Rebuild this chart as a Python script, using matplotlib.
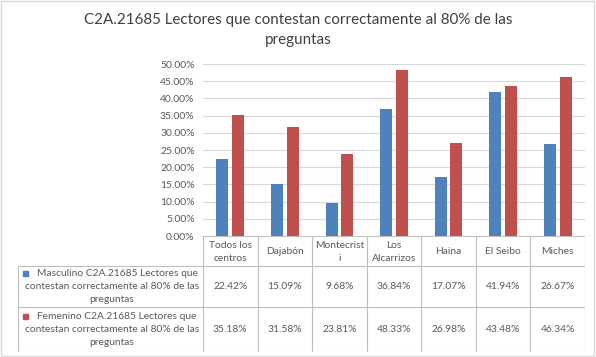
import matplotlib
matplotlib.use("Agg")
import matplotlib.pyplot as plt
from matplotlib.patches import Rectangle

categories = ["Todos los\ncentros", "Dajabón", "Montecrist\ni", "Los\nAlcarrizos", "Haina", "El Seibo", "Miches"]
masculino = [22.42, 15.09, 9.68, 36.84, 17.07, 41.94, 26.67]
femenino = [35.18, 31.58, 23.81, 48.33, 26.98, 43.48, 46.34]
series_labels = [["Masculino C2A.21685 Lectores que", "contestan correctamente al 80% de las", "preguntas"],
                 ["Femenino C2A.21685 Lectores que", "contestan correctamente al 80% de las", "preguntas"]]
title = "C2A.21685 Lectores que contestan correctamente al 80% de las\npreguntas"
yticks = [0, 5, 10, 15, 20, 25, 30, 35, 40, 45, 50]

BLUE = "#4F81BD"
RED = "#C0504D"
GRID = "#D9D9D9"
TXT = "#595959"
FONT = "Lato"

W, H = 596, 357
fig = plt.figure(figsize=(W / 100, H / 100), dpi=100)
plt.rcParams['font.family'] = [FONT, 'DejaVu Sans']

def fx(px):
    return px / W

def fy(py):
    return 1 - py / H

# outer border
fig.patches.append(Rectangle((0.002, 0.003), 0.995, 0.994, transform=fig.transFigure,
                             fill=False, edgecolor="#D9D9D9", linewidth=1.0))

fig.text(0.5, fy(30), title, ha="center", va="center", fontsize=10.9, color="#404040",
         linespacing=1.55)

left, right, top, bottom = 203, 585, 64, 236
ax = fig.add_axes([fx(left), fy(bottom), fx(right) - fx(left), fy(top) - fy(bottom)])
n = len(masculino)
x = list(range(n))
bw = 0.22
ax.bar([i - 0.145 for i in x], masculino, width=bw, color=BLUE, zorder=3)
ax.bar([i + 0.145 for i in x], femenino, width=bw, color=RED, zorder=3)
ax.set_xlim(-0.5, n - 0.5)
ax.set_ylim(0, 50)
ax.set_yticks(yticks)
ax.set_yticklabels([f"{v:.2f}%" for v in yticks], fontsize=7.5, color=TXT)
ax.yaxis.grid(True, color=GRID, linewidth=0.8, zorder=0)
ax.set_xticks([])
for s in ax.spines.values():
    s.set_visible(False)
ax.tick_params(axis="y", length=0, pad=6)

# table
tab_left, tab_right = 18, 585
r0, r1, r2, r3 = 236, 266, 307, 352
tab = fig.add_axes([fx(tab_left), fy(r3), fx(tab_right) - fx(tab_left), fy(r0) - fy(r3)])
tab.set_xlim(tab_left, tab_right)
tab.set_ylim(r3, r0)
tab.axis("off")
LC = "#BFBFBF"
colw = (right - left) / n
edges = [left + k * colw for k in range(n + 1)]
for e in edges:
    tab.plot([e, e], [r0, r3], color=LC, lw=0.8)
tab.plot([tab_left, tab_left], [r1, r3], color=LC, lw=0.8)
tab.plot([left, right], [r0, r0], color=LC, lw=0.8)
for r in (r1, r2, r3):
    tab.plot([tab_left, right], [r, r], color=LC, lw=0.8)

fs = 7.4
for i, c in enumerate(categories):
    cx = (edges[i] + edges[i + 1]) / 2
    tab.text(cx, (r0 + r1) / 2 + 1, c, ha="center", va="center", fontsize=fs, color=TXT,
             linespacing=1.55)

for vals, (ra, rb), lines, col in [(masculino, (r1, r2), series_labels[0], BLUE),
                                   (femenino, (r2, r3), series_labels[1], RED)]:
    cy = (ra + rb) / 2
    for i, v in enumerate(vals):
        cx = (edges[i] + edges[i + 1]) / 2
        tab.text(cx, cy, f"{v:.2f}%", ha="center", va="center", fontsize=fs, color=TXT)
    ys = [cy - 13, cy, cy + 13]
    xs = [117, 112, 112]
    for ln, lx, ly in zip(lines, xs, ys):
        tab.text(lx, ly, ln, ha="center", va="center", fontsize=fs, color=TXT)
    tab.add_patch(Rectangle((23, ys[0] + 2.5), 5, -5, color=col))

fig.savefig("out.png", dpi=100)
